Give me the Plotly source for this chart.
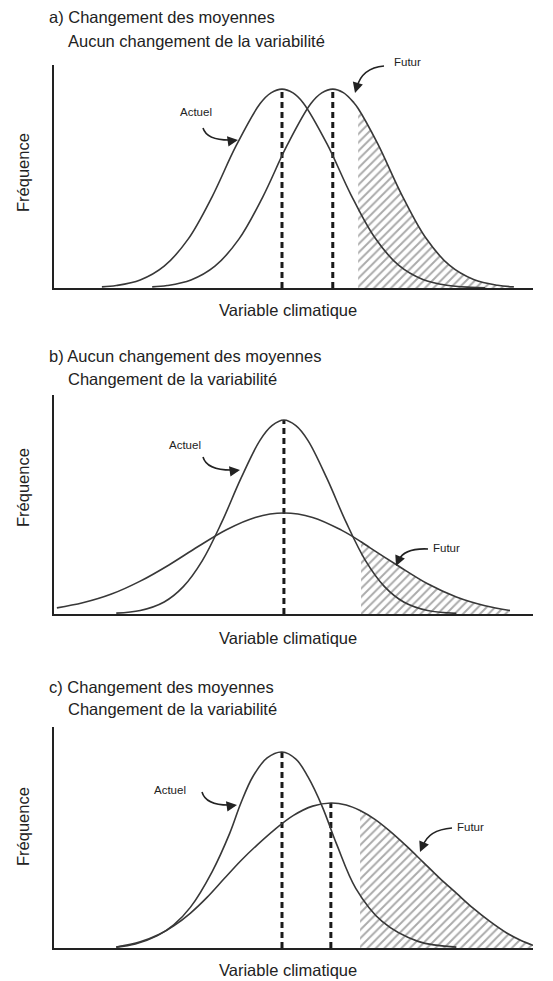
import plotly.graph_objects as go

W, H = 553, 981

# ---------------- data ----------------
# x: "Variable climatique" (0-100 along the axis), y: "Fréquence" (0-100 of axis height)

# a) Changement des moyennes / Aucun changement de la variabilité
a_actuel_x = [10, 13, 18, 23, 28, 33, 38, 43, 45.3, 47.6, 49.9, 52, 57, 62, 67, 72, 77, 82, 87, 90]
a_actuel_y = [0.5, 1.1, 3.6, 9.8, 21.9, 40.9, 63.7, 82.6, 87.5, 89.2, 87.5, 83.1, 64.6, 41.8, 22.5, 10.1, 3.8, 1.2, 0.3, 0.1]
a_futur_x = [20.5, 23.6, 28.6, 33.6, 38.6, 43.6, 48.6, 53.6, 55.9, 58.2, 60.4, 62.6, 63.5, 67.6, 72.6, 77.6, 82.6, 87.6, 92.6, 96]
a_futur_y = [0.5, 1.1, 3.6, 9.8, 21.9, 40.9, 63.7, 82.6, 87.5, 89.2, 87.6, 83.1, 80.5, 64.6, 41.8, 22.5, 10.1, 3.8, 1.2, 0.5]
a_moyennes = [47.6, 58.2]
a_sommets = [89.2, 89.2]
a_seuil = 63.5

# b) Aucun changement des moyennes / Changement de la variabilité
b_actuel_x = [13, 18, 23, 27, 31, 35, 39, 43, 45.5, 48, 50.5, 53, 57, 61, 65, 69, 73, 78, 84]
b_actuel_y = [0.4, 1.6, 5.5, 12.5, 24.5, 41.8, 61.8, 79.3, 86.0, 88.6, 86.0, 79.3, 61.8, 41.8, 24.5, 12.5, 5.5, 1.6, 0.3]
b_futur_x = [0.6, 6, 12, 18, 24, 30, 36, 42, 48, 54, 60, 64.1, 66, 72, 78, 84, 90, 95.2]
b_futur_y = [2.8, 5.1, 9.1, 15.0, 22.4, 30.7, 38.5, 44.1, 46.1, 44.1, 38.3, 33.0, 30.2, 21.8, 13.8, 7.8, 3.8, 1.6]
b_moyennes = [48.0]
b_sommets = [88.6]
b_seuil = 64.1

# c) Changement des moyennes / Changement de la variabilité
c_actuel_x = [13, 17, 21.5, 25, 28.5, 33, 36.7, 39, 41.5, 44.5, 47.6, 50.5, 53, 56, 59, 63, 68.5, 76, 84]
c_actuel_y = [0.4, 1.8, 5.5, 10.5, 18.5, 34.5, 52, 65.5, 77.5, 86, 88.7, 85.5, 77.5, 64, 47, 27, 12, 3.0, 0.4]
c_futur_x = [13, 18, 22, 25, 28.5, 32, 35.5, 39, 42.5, 46, 50, 54, 57.8, 61, 63.9, 67, 70, 73.5, 77, 80.5, 84, 87.5, 91, 94.5, 97.5, 100]
c_futur_y = [0.4, 2.8, 6.2, 10.0, 15.8, 23.0, 31.3, 39.5, 46.8, 53.5, 60.0, 64.2, 65.6, 64.7, 62.2, 58.2, 53.1, 46.3, 39.0, 31.6, 24.8, 18.0, 12.0, 6.8, 3.4, 1.2]
c_moyennes = [47.6, 57.8]
c_sommets = [88.7, 65.6]
c_seuil = 63.9

titres = [
    ("a) Changement des moyennes", "Aucun changement de la variabilité"),
    ("b) Aucun changement des moyennes", "Changement de la variabilité"),
    ("c) Changement des moyennes", "Changement de la variabilité"),
]
label_y = "Fréquence"
label_x = "Variable climatique"
label_actuel = "Actuel"
label_futur = "Futur"

# ---------------- layout geometry (pixels) ----------------
X_LEFT, X_RIGHT = 54, 533
panels_px = [  # (baseline, top)
    (288, 65),
    (614, 395),
    (948, 727),
]
title_px = [(17, 41), (356, 379), (687, 709)]
ylab_px = [173, 488, 827]
xlab_px = [310, 638, 970]
actuel_lab_px = [(196, 112), (185, 445), (170, 790)]
futur_lab_px = [(407, 62), (446, 548), (470, 827)]
# arrow paths: (start, control, end, head, head offset)
actuel_arrows = [
    ((203, 128), (207, 141), (233, 140), (238, 140), (-7, 1)),
    ((203, 457), (207, 471), (235, 470), (240, 470), (-7, 1)),
    ((202, 792), (206, 806), (232, 805), (237, 805), (-7, 1)),
]
futur_arrows = [
    ((384, 66), (362, 68), (357, 87), (355, 93), (2, -7)),
    ((428, 549), (404, 548), (399, 560), (396, 566), (3, -7)),
    ((452, 828), (428, 830), (423, 846), (420, 852), (3, -7)),
]

def px(x):
    return x / W

def py(y):
    return 1 - y / H

INK = "#222222"
CURVE = "#383838"
FONT = "Liberation Sans, Arial, sans-serif"
BIG = 16.5
SMALL = 11.5

data_panels = [
    (a_actuel_x, a_actuel_y, a_futur_x, a_futur_y, a_moyennes, a_sommets, a_seuil),
    (b_actuel_x, b_actuel_y, b_futur_x, b_futur_y, b_moyennes, b_sommets, b_seuil),
    (c_actuel_x, c_actuel_y, c_futur_x, c_futur_y, c_moyennes, c_sommets, c_seuil),
]

fig = go.Figure()
layout = dict(
    width=W, height=H,
    margin=dict(l=0, r=0, t=0, b=0),
    paper_bgcolor="white", plot_bgcolor="white",
    showlegend=False,
    font=dict(family=FONT, color=INK),
)
annotations = []
shapes = []

for i, (ax_x, ax_y, fx, fy, moy, som, seuil) in enumerate(data_panels):
    n = "" if i == 0 else str(i + 1)
    xa, ya = "x" + n, "y" + n
    base, top = panels_px[i]
    layout["xaxis" + n] = dict(
        domain=[px(X_LEFT), px(X_RIGHT)], range=[0, 100], anchor=ya,
        showline=True, linecolor=INK, linewidth=2, showgrid=False,
        zeroline=False, showticklabels=False, ticks="", fixedrange=True,
    )
    layout["yaxis" + n] = dict(
        domain=[py(base), py(top)], range=[0, 100], anchor=xa,
        showline=True, linecolor=INK, linewidth=2, showgrid=False,
        zeroline=False, showticklabels=False, ticks="", fixedrange=True,
    )
    # hatched area under the future curve beyond the threshold
    hx = [x for x in fx if x >= seuil]
    hy = [y for x, y in zip(fx, fy) if x >= seuil]
    fig.add_trace(go.Scatter(
        x=hx, y=hy, xaxis=xa, yaxis=ya, mode="lines",
        line=dict(width=0, shape="spline", color=CURVE),
        fill="tozeroy", fillcolor="white",
        fillpattern=dict(shape="/", fgcolor="#555555", bgcolor="white",
                         size=6, solidity=0.32),
        hoverinfo="skip",
    ))
    # dashed mean lines
    for m, s in zip(moy, som):
        fig.add_trace(go.Scatter(
            x=[m, m], y=[0, s], xaxis=xa, yaxis=ya, mode="lines",
            line=dict(color="#1a1a1a", width=3, dash="6px,4px"),
            hoverinfo="skip",
        ))
    # curves
    for cx, cy in ((ax_x, ax_y), (fx, fy)):
        fig.add_trace(go.Scatter(
            x=cx, y=cy, xaxis=xa, yaxis=ya, mode="lines",
            line=dict(color=CURVE, width=1.6, shape="spline", smoothing=1.0),
            hoverinfo="skip",
        ))

    # texts
    t1, t2 = titres[i]
    l1y, l2y = title_px[i]
    annotations.append(dict(text=t1, x=px(47), y=py(l1y), xref="paper", yref="paper",
                            xanchor="left", yanchor="middle", showarrow=False,
                            font=dict(size=BIG, family=FONT, color=INK)))
    annotations.append(dict(text=t2, x=px(66), y=py(l2y), xref="paper", yref="paper",
                            xanchor="left", yanchor="middle", showarrow=False,
                            font=dict(size=BIG, family=FONT, color=INK)))
    annotations.append(dict(text=label_y, x=px(23), y=py(ylab_px[i]), xref="paper", yref="paper",
                            xanchor="center", yanchor="middle", textangle=-90, showarrow=False,
                            font=dict(size=BIG, family=FONT, color=INK)))
    annotations.append(dict(text=label_x, x=px(288), y=py(xlab_px[i]), xref="paper", yref="paper",
                            xanchor="center", yanchor="middle", showarrow=False,
                            font=dict(size=BIG, family=FONT, color=INK)))
    ax_, ay_ = actuel_lab_px[i]
    annotations.append(dict(text=label_actuel, x=px(ax_), y=py(ay_), xref="paper", yref="paper",
                            xanchor="center", yanchor="middle", showarrow=False,
                            font=dict(size=SMALL, family=FONT, color=INK)))
    fx_, fy_ = futur_lab_px[i]
    annotations.append(dict(text=label_futur, x=px(fx_), y=py(fy_), xref="paper", yref="paper",
                            xanchor="center", yanchor="middle", showarrow=False,
                            font=dict(size=SMALL, family=FONT, color=INK)))
    for (s, c, e, h, off) in (actuel_arrows[i], futur_arrows[i]):
        path = "M {:.5f},{:.5f} Q {:.5f},{:.5f} {:.5f},{:.5f}".format(
            px(s[0]), py(s[1]), px(c[0]), py(c[1]), px(e[0]), py(e[1]))
        shapes.append(dict(type="path", path=path, xref="paper", yref="paper",
                           line=dict(color=INK, width=1.6)))
        annotations.append(dict(text="", x=px(h[0]), y=py(h[1]), xref="paper", yref="paper",
                                ax=off[0], ay=off[1], showarrow=True, arrowhead=2,
                                arrowsize=1.3, arrowwidth=1.6, arrowcolor=INK))

layout["annotations"] = annotations
layout["shapes"] = shapes
fig.update_layout(**layout)
fig.write_html(
    "out.html",
    config={"displayModeBar": False},
    post_script="document.body.style.margin='0';document.body.style.overflow='hidden';",
)
